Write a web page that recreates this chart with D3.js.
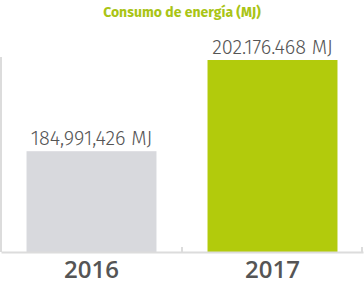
<!DOCTYPE html>
<html>
<head>
<meta charset="utf-8">
<script src="https://cdn.jsdelivr.net/npm/d3@7"></script>
<style>
  body { margin: 0; background: #fff; }
  svg { display: block; }
  svg text { font-family: "Fira Sans", "Open Sans", "Noto Sans", sans-serif; }
</style>
</head>
<body>
<svg id="chart" width="364" height="288"></svg>
<script>
// data
const years = ["2016", "2017"];
const energyMJ = [184991426, 202176468];
const valueLabels = ["184,991,426 MJ", "202.176.468 MJ"];
const chartTitle = "Consumo de energía (MJ)";
const barColors = ["#d8d9dd", "#b2cb0c"];

const svg = d3.select("#chart");
const margin = { top: 60, right: 1, bottom: 36, left: 1 };
const width = 364 - margin.left - margin.right;
const height = 288 - margin.top - margin.bottom;

const g = svg.append("g").attr("transform", "translate(" + margin.left + "," + margin.top + ")");

const x = d3.scaleBand()
    .domain(years)
    .range([0, width])
    .paddingInner(0.282)
    .paddingOuter(0.141);

// axis does not start at zero in the original
const y = d3.scaleLinear()
    .domain([166000000, 202176468])
    .range([height, 0]);

// title
svg.append("text")
    .attr("x", 182)
    .attr("y", 17)
    .attr("text-anchor", "middle")
    .attr("fill", "#a9c415")
    .style("font-size", "14px")
    .style("font-weight", "bold")
    .text(chartTitle);

// left axis line
g.append("line")
    .attr("x1", 0).attr("x2", 0)
    .attr("y1", -3).attr("y2", height)
    .attr("stroke", "#dcdcdc")
    .attr("stroke-width", 2);

const data = years.map((yr, i) => ({ year: yr, val: energyMJ[i], label: valueLabels[i], color: barColors[i] }));

g.selectAll(".bar")
    .data(data)
    .enter()
    .append("rect")
    .attr("class", "bar")
    .attr("x", d => x(d.year))
    .attr("y", d => y(d.val))
    .attr("width", x.bandwidth())
    .attr("height", d => height - y(d.val))
    .attr("fill", d => d.color);

g.selectAll(".val")
    .data(data)
    .enter()
    .append("text")
    .attr("class", "val")
    .attr("x", d => x(d.year) + x.bandwidth() / 2)
    .attr("y", d => y(d.val) - 6)
    .attr("text-anchor", "middle")
    .attr("fill", "#555")
    .style("font-size", "20px")
    .style("font-weight", "300")
    .text(d => d.label);

// bottom axis
const xAxis = g.append("g")
    .attr("transform", "translate(0," + height + ")")
    .call(d3.axisBottom(x).tickSize(0).tickPadding(9));
xAxis.attr("font-family", null);
xAxis.select(".domain")
    .attr("stroke", "#dcdcdc")
    .attr("stroke-width", 2);
xAxis.selectAll("text")
    .attr("fill", "#555")
    .style("font-family", "'Open Sans', sans-serif")
    .style("font-size", "24px")
    .style("font-weight", "600")
    .attr("dy", "0.71em");

// small separator ticks between categories
g.selectAll(".sep")
    .data(years)
    .enter()
    .append("line")
    .attr("class", "sep")
    .attr("x1", (d, i) => Math.min(width - 1, (i + 1) * width / years.length))
    .attr("x2", (d, i) => Math.min(width - 1, (i + 1) * width / years.length))
    .attr("y1", height - 5)
    .attr("y2", height)
    .attr("stroke", "#dcdcdc")
    .attr("stroke-width", 2);
</script>
</body>
</html>
